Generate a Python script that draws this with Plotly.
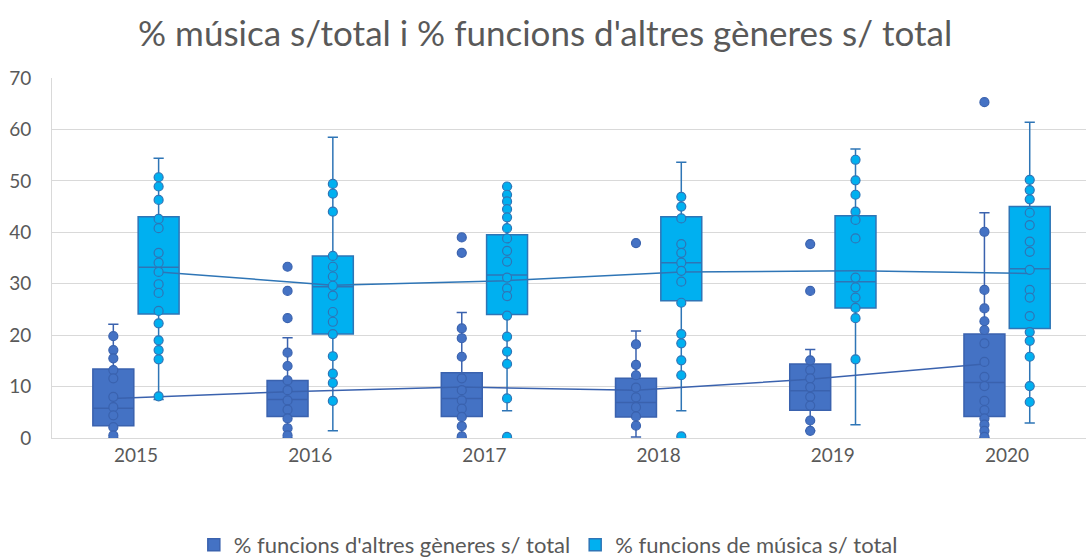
import plotly.graph_objects as go

years = ["2015", "2016", "2017", "2018", "2019", "2020"]

# % funcions d'altres gèneres s/ total (dark series)
other_q1 = [2.4, 4.2, 4.2, 4.1, 5.4, 4.2]
other_median = [5.8, 7.5, 7.7, 6.9, 9.2, 10.8]
other_q3 = [13.4, 11.2, 12.7, 11.6, 14.4, 20.2]
other_low = [0.0, 0.0, 0.0, 0.2, 1.4, 0.0]
other_high = [22.1, 19.5, 24.4, 20.8, 17.2, 43.8]
other_mean = [7.7, 9.0, 9.9, 9.3, 11.4, 14.4]
other_2015 = [19.8, 17.1, 15.5, 13.2, 11.6, 8.0, 6.0, 4.4, 2.1, 0.5]
other_2016 = [33.3, 28.6, 23.3, 16.6, 14.0, 11.2, 9.3, 7.3, 5.5, 3.8, 1.9, 0.5]
other_2017 = [39.0, 36.0, 21.3, 19.4, 15.8, 11.6, 9.3, 7.3, 5.7, 4.1, 2.3, 0.3]
other_2018 = [37.9, 18.2, 14.2, 12.2, 9.8, 7.9, 6.0, 4.2, 2.4]
other_2019 = [37.7, 28.6, 15.1, 13.2, 11.6, 9.9, 8.0, 6.3, 3.4, 1.4]
other_2020 = [65.3, 40.1, 28.8, 25.2, 22.7, 21.0, 18.4, 14.8, 11.9, 10.1, 7.2, 5.4, 3.8, 2.6, 1.4, 0.2]

# % funcions de música s/ total (light series)
music_q1 = [24.1, 20.2, 24.0, 26.7, 25.3, 21.3]
music_median = [33.2, 29.4, 31.7, 34.1, 30.4, 32.9]
music_q3 = [43.0, 35.4, 39.5, 43.0, 43.2, 45.0]
music_low = [7.5, 1.4, 5.3, 5.3, 2.6, 2.9]
music_high = [54.4, 58.5, 48.9, 53.6, 56.2, 61.4]
music_mean = [32.3, 29.7, 30.6, 32.3, 32.5, 32.0]
music_2015 = [50.7, 48.9, 46.3, 42.6, 40.8, 36.0, 34.1, 32.3, 29.9, 28.2, 24.7, 22.3, 19.0, 17.1, 15.3, 8.1]
music_2016 = [49.4, 47.5, 44.0, 35.4, 33.3, 31.4, 29.6, 27.7, 24.5, 22.6, 20.2, 15.9, 12.5, 10.7, 7.2]
music_2017 = [48.9, 47.3, 46.0, 44.5, 42.9, 40.8, 38.8, 36.4, 34.3, 31.2, 29.1, 27.6, 23.8, 19.7, 16.8, 14.4, 7.7, 0.2]
music_2018 = [46.9, 45.0, 42.7, 37.7, 36.0, 34.1, 32.5, 30.4, 26.3, 20.2, 18.4, 15.1, 12.2, 0.3]
music_2019 = [54.1, 50.1, 47.3, 44.0, 42.4, 38.8, 31.2, 29.3, 27.3, 25.3, 23.3, 15.3]
music_2020 = [50.2, 48.2, 46.4, 43.8, 41.4, 38.2, 36.2, 32.7, 28.8, 27.3, 23.7, 20.6, 18.9, 15.8, 10.1, 7.0]

other_points = [other_2015, other_2016, other_2017, other_2018, other_2019, other_2020]
music_points = [music_2015, music_2016, music_2017, music_2018, music_2019, music_2020]

OFF = 0.13
BW = 0.235
DARK = "#4472C4"
DARK_LINE = "#3A62AE"
LIGHT = "#00B0F0"
LIGHT_LINE = "#2E75B6"
FONT = "Lato"

idx = list(range(len(years)))
x_other = [i - OFF for i in idx]
x_music = [i + OFF for i in idx]

fig = go.Figure()

fig.add_trace(go.Box(
    name="% funcions d'altres gèneres s/ total",
    x=x_other, q1=other_q1, median=other_median, q3=other_q3,
    lowerfence=other_low, upperfence=other_high,
    width=BW, whiskerwidth=0.25,
    fillcolor=DARK, line=dict(color=DARK_LINE, width=1.5),
    boxpoints=False, hoverinfo="skip",
))
fig.add_trace(go.Box(
    name="% funcions de música s/ total",
    x=x_music, q1=music_q1, median=music_median, q3=music_q3,
    lowerfence=music_low, upperfence=music_high,
    width=BW, whiskerwidth=0.25,
    fillcolor=LIGHT, line=dict(color=LIGHT_LINE, width=1.5),
    boxpoints=False, hoverinfo="skip",
))

# mean lines
fig.add_trace(go.Scatter(x=x_other, y=other_mean, mode="lines",
                         line=dict(color=DARK_LINE, width=1.5), showlegend=False))
fig.add_trace(go.Scatter(x=x_music, y=music_mean, mode="lines",
                         line=dict(color=LIGHT_LINE, width=1.5), showlegend=False))

# data points
px_o, py_o, px_m, py_m = [], [], [], []
for i in idx:
    px_o += [x_other[i]] * len(other_points[i])
    py_o += other_points[i]
    px_m += [x_music[i]] * len(music_points[i])
    py_m += music_points[i]

fig.add_trace(go.Scatter(x=px_o, y=py_o, mode="markers", showlegend=False,
                         marker=dict(size=9, color=DARK, line=dict(color=DARK_LINE, width=1.2))))
fig.add_trace(go.Scatter(x=px_m, y=py_m, mode="markers", showlegend=False,
                         marker=dict(size=9, color=LIGHT, line=dict(color=LIGHT_LINE, width=1.2))))

fig.update_layout(
    width=1086, height=558,
    margin=dict(l=52, r=0, t=78, b=120, autoexpand=False),
    paper_bgcolor="white", plot_bgcolor="white",
    title=dict(text="% música s/total i % funcions d'altres gèneres s/ total",
               x=0.502, xref="container", xanchor="center",
               y=0.94, yref="container", yanchor="middle",
               font=dict(family=FONT, size=35, color="#595959")),
    font=dict(family=FONT, color="#595959"),
    showlegend=True,
    legend=dict(orientation="h", x=0.48, xanchor="center", y=-0.297, yanchor="middle",
                font=dict(family=FONT, size=22, color="#595959"),
                itemwidth=30, traceorder="normal"),
    xaxis=dict(range=[-0.482, 5.453], tickvals=idx, ticktext=years, automargin=False,
               showgrid=False, zeroline=False, showline=True, linecolor="#D9D9D9",
               tickfont=dict(family=FONT, size=19, color="#595959"), ticks=""),
    yaxis=dict(range=[0, 70], dtick=10, showgrid=True, gridcolor="#D9D9D9", automargin=False,
               zeroline=False, showline=True, linecolor="#D9D9D9",
               tickfont=dict(family=FONT, size=19, color="#595959"),
               ticks="", ticklabelstandoff=16),
)

fig.write_html("out.html", config={"displayModeBar": False},
               post_script="document.body.style.margin='0';document.body.style.overflow='hidden';")
